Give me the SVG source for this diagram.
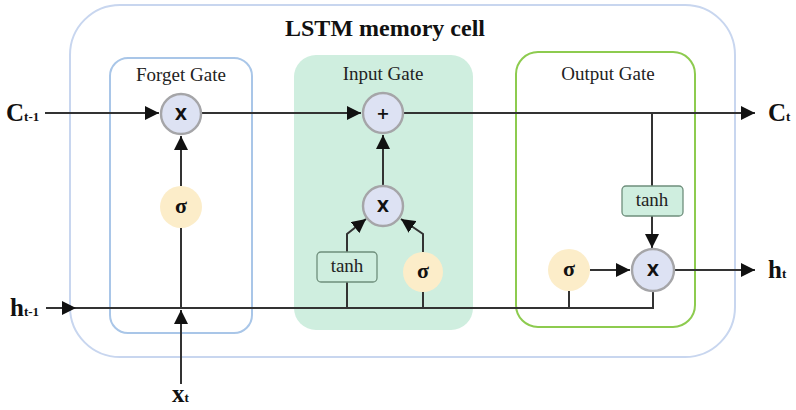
<svg xmlns="http://www.w3.org/2000/svg" width="796" height="410" viewBox="0 0 796 410">
<defs>
<marker id="ahb" viewBox="0 0 10 10" refX="10" refY="5" markerWidth="14" markerHeight="14" markerUnits="userSpaceOnUse" orient="auto">
<path d="M0,0 L10,5 L0,10 z" fill="#111"/>
</marker>
</defs>
<style>
.gate-title{font-family:"Liberation Serif",serif;font-size:19px;fill:#222;text-anchor:middle}
.op{fill:#dde2f3;stroke:#a5a5a8;stroke-width:2.4}
.sig{fill:#fcedc9}
.tanh{fill:#cfeedf;stroke:#6f8f7c;stroke-width:1.3}
.opt{font-family:"DejaVu Sans","Liberation Sans",sans-serif;font-weight:bold;font-size:16px;fill:#111;text-anchor:middle}
.sigt{font-family:"Liberation Serif",serif;font-weight:bold;font-size:22px;fill:#111;text-anchor:middle}
.tt{font-family:"Liberation Serif",serif;font-size:19px;fill:#222;text-anchor:middle}
.lbl{font-family:"Liberation Serif",serif;font-weight:bold;font-size:25px;fill:#111}
.sub{font-size:13px}
.ln{fill:none;stroke:#333;stroke-width:2}
</style>
<rect x="0" y="0" width="796" height="410" fill="#fff"/>
<g id="cell">
<rect x="70" y="5" width="665" height="352" rx="50" fill="none" stroke="#c8d6ef" stroke-width="2"/>
<text x="385" y="36" text-anchor="middle" font-family="Liberation Serif,serif" font-weight="bold" font-size="24" fill="#111">LSTM memory cell</text>
</g>
<g id="forget-gate">
<rect x="110" y="58" width="142" height="275" rx="18" fill="none" stroke="#a9c6e8" stroke-width="2"/>
<text class="gate-title" x="181" y="81">Forget Gate</text>
</g>
<g id="input-gate">
<rect x="294" y="55" width="179" height="275" rx="22" fill="#cfeedf"/>
<text class="gate-title" x="383" y="80">Input Gate</text>
</g>
<g id="output-gate">
<rect x="516" y="52" width="179" height="275" rx="22" fill="none" stroke="#8dcb4f" stroke-width="2"/>
<text class="gate-title" x="608" y="80">Output Gate</text>
</g>
<g id="connectors">
<line class="ln" x1="45" y1="113" x2="159" y2="113" marker-end="url(#ahb)"/>
<line class="ln" x1="202" y1="113" x2="361" y2="113" marker-end="url(#ahb)"/>
<line class="ln" x1="404" y1="113" x2="755" y2="113" marker-end="url(#ahb)"/>
<line class="ln" x1="181" y1="186" x2="181" y2="136" marker-end="url(#ahb)"/>
<line class="ln" x1="181" y1="228" x2="181" y2="308"/>
<line class="ln" x1="181" y1="384" x2="181" y2="310" marker-end="url(#ahb)"/>
<line class="ln" x1="46" y1="308" x2="76" y2="308" marker-end="url(#ahb)"/>
<polyline class="ln" points="76,308 653,308 653,291"/>
<line class="ln" x1="383" y1="185" x2="383" y2="135" marker-end="url(#ahb)"/>
<polyline class="ln" points="347,308 347,282"/>
<polyline class="ln" points="347,252 347,234 366,219" marker-end="url(#ahb)"/>
<polyline class="ln" points="423,308 423,292"/>
<polyline class="ln" points="423,252 423,234 401,219" marker-end="url(#ahb)"/>
<line class="ln" x1="652" y1="113" x2="652" y2="186"/>
<line class="ln" x1="652" y1="216" x2="652" y2="248" marker-end="url(#ahb)"/>
<line class="ln" x1="569" y1="308" x2="569" y2="291"/>
<line class="ln" x1="590" y1="270" x2="630" y2="270" marker-end="url(#ahb)"/>
<line class="ln" x1="674" y1="270" x2="755" y2="270" marker-end="url(#ahb)"/>
</g>
<g id="forget-mul"><circle class="op" cx="181" cy="114" r="20"/><text class="opt" x="181" y="120">X</text></g>
<g id="forget-sigma"><circle class="sig" cx="181" cy="207" r="21"/><text class="sigt" x="181" y="213">σ</text></g>
<g id="input-add"><circle class="op" cx="383" cy="113" r="20"/><text class="opt" x="383" y="119">+</text></g>
<g id="input-mul"><circle class="op" cx="383" cy="206" r="20"/><text class="opt" x="383" y="212">X</text></g>
<g id="input-tanh"><rect class="tanh" x="317" y="252" width="60" height="30" rx="4"/><text class="tt" x="347" y="272">tanh</text></g>
<g id="input-sigma"><circle class="sig" cx="423" cy="272" r="20"/><text class="sigt" x="423" y="278">σ</text></g>
<g id="output-tanh"><rect class="tanh" x="622" y="186" width="61" height="30" rx="4"/><text class="tt" x="652" y="206">tanh</text></g>
<g id="output-sigma"><circle class="sig" cx="569" cy="270" r="21"/><text class="sigt" x="569" y="276">σ</text></g>
<g id="output-mul"><circle class="op" cx="653" cy="270" r="21"/><text class="opt" x="653" y="276">X</text></g>
<g id="labels">
<text class="lbl" x="6" y="121">C<tspan class="sub">t-1</tspan></text>
<text class="lbl" x="10" y="316">h<tspan class="sub">t-1</tspan></text>
<text class="lbl" x="172" y="402">x<tspan class="sub">t</tspan></text>
<text class="lbl" x="768" y="121">C<tspan class="sub">t</tspan></text>
<text class="lbl" x="768" y="278">h<tspan class="sub">t</tspan></text>
</g>
</svg>
